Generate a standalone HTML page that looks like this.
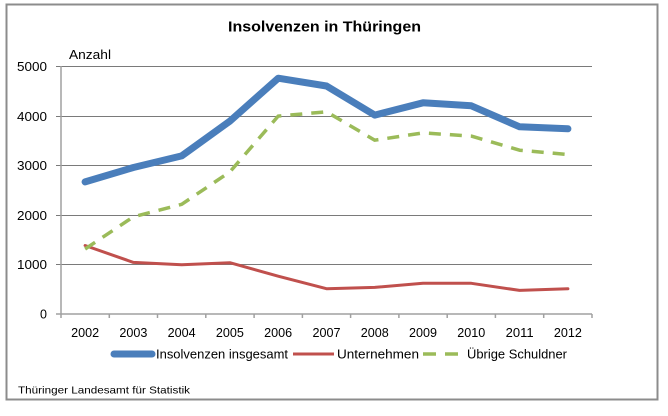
<!DOCTYPE html>
<html><head><meta charset="utf-8"><style>
html,body{margin:0;padding:0;background:#fff;}
svg{display:block;}
text{font-family:"Liberation Sans",sans-serif;fill:#000;}
</style></head><body>
<svg width="668" height="416" viewBox="0 0 668 416" xmlns="http://www.w3.org/2000/svg">
<rect x="0" y="0" width="668" height="416" fill="#fff"/>
<rect x="6.5" y="4.5" width="651" height="395" fill="#fff" stroke="#8c8c8c" stroke-width="2"/>
<text x="228" y="31.3" font-size="15" font-weight="bold" textLength="193" lengthAdjust="spacingAndGlyphs">Insolvenzen in Thüringen</text>
<text x="69" y="59" font-size="13" textLength="42" lengthAdjust="spacingAndGlyphs">Anzahl</text>
<g stroke="#7a7a7a" stroke-width="1">
<line x1="56" y1="66.5" x2="592" y2="66.5"/>
<line x1="56" y1="116.5" x2="592" y2="116.5"/>
<line x1="56" y1="165.5" x2="592" y2="165.5"/>
<line x1="56" y1="215.5" x2="592" y2="215.5"/>
<line x1="56" y1="264.5" x2="592" y2="264.5"/>
</g>
<g stroke="#a0a0a0" stroke-width="1.5">
<line x1="61" y1="66" x2="61" y2="318"/>
<line x1="56" y1="314" x2="592" y2="314"/>
<line x1="109.3" y1="314" x2="109.3" y2="318"/>
<line x1="157.5" y1="314" x2="157.5" y2="318"/>
<line x1="205.8" y1="314" x2="205.8" y2="318"/>
<line x1="254.1" y1="314" x2="254.1" y2="318"/>
<line x1="302.4" y1="314" x2="302.4" y2="318"/>
<line x1="350.6" y1="314" x2="350.6" y2="318"/>
<line x1="398.9" y1="314" x2="398.9" y2="318"/>
<line x1="447.2" y1="314" x2="447.2" y2="318"/>
<line x1="495.4" y1="314" x2="495.4" y2="318"/>
<line x1="543.7" y1="314" x2="543.7" y2="318"/>
<line x1="592" y1="314" x2="592" y2="318"/>
</g>
<g font-size="12.5" text-anchor="end">
<text x="47" y="71" textLength="30" lengthAdjust="spacingAndGlyphs">5000</text>
<text x="47" y="121" textLength="30" lengthAdjust="spacingAndGlyphs">4000</text>
<text x="47" y="170" textLength="30" lengthAdjust="spacingAndGlyphs">3000</text>
<text x="47" y="220" textLength="30" lengthAdjust="spacingAndGlyphs">2000</text>
<text x="47" y="269" textLength="30" lengthAdjust="spacingAndGlyphs">1000</text>
<text x="47" y="318.5">0</text>
</g>
<g font-size="12.5">
<text x="71.1" y="337" textLength="28" lengthAdjust="spacingAndGlyphs">2002</text>
<text x="119.4" y="337" textLength="28" lengthAdjust="spacingAndGlyphs">2003</text>
<text x="167.7" y="337" textLength="28" lengthAdjust="spacingAndGlyphs">2004</text>
<text x="215.9" y="337" textLength="28" lengthAdjust="spacingAndGlyphs">2005</text>
<text x="264.2" y="337" textLength="28" lengthAdjust="spacingAndGlyphs">2006</text>
<text x="312.5" y="337" textLength="28" lengthAdjust="spacingAndGlyphs">2007</text>
<text x="360.8" y="337" textLength="28" lengthAdjust="spacingAndGlyphs">2008</text>
<text x="409" y="337" textLength="28" lengthAdjust="spacingAndGlyphs">2009</text>
<text x="457.3" y="337" textLength="28" lengthAdjust="spacingAndGlyphs">2010</text>
<text x="505.6" y="337" textLength="28" lengthAdjust="spacingAndGlyphs">2011</text>
<text x="553.9" y="337" textLength="28" lengthAdjust="spacingAndGlyphs">2012</text>
</g>
<polyline fill="none" stroke="#c0504d" stroke-width="3" stroke-linejoin="round" stroke-linecap="round"
 points="85.1,245.5 133.4,262.4 181.7,264.7 229.9,262.7 278.2,276.2 326.5,288.7 374.8,287.4 423,283.3 471.3,283.3 519.6,290.4 567.9,288.7"/>
<polyline fill="none" stroke="#9bbb59" stroke-width="3.5" stroke-linejoin="round" stroke-dasharray="12 9"
 points="85.1,249 133.4,216.8 181.7,204.3 229.9,171.9 278.2,116.1 326.5,111.8 374.8,140.2 423,132.9 471.3,136.1 519.6,150.2 567.9,154.5"/>
<polyline fill="none" stroke="#4a7ebb" stroke-width="7" stroke-linejoin="round" stroke-linecap="round"
 points="85.1,181.9 133.4,167.5 181.7,155.9 229.9,121.1 278.2,78.2 326.5,86 374.8,115.1 423,102.8 471.3,105.8 519.6,126.8 567.9,128.8"/>
<line x1="114" y1="354" x2="152" y2="354" stroke="#4a7ebb" stroke-width="7" stroke-linecap="round"/>
<text x="156" y="358.5" font-size="12.5" textLength="132" lengthAdjust="spacingAndGlyphs">Insolvenzen insgesamt</text>
<line x1="293" y1="354" x2="334" y2="354" stroke="#c0504d" stroke-width="3"/>
<text x="337" y="358.5" font-size="12.5" textLength="82" lengthAdjust="spacingAndGlyphs">Unternehmen</text>
<line x1="423" y1="354" x2="436" y2="354" stroke="#9bbb59" stroke-width="3.5"/>
<line x1="445" y1="354" x2="458" y2="354" stroke="#9bbb59" stroke-width="3.5"/>
<text x="467" y="358.5" font-size="12.5" textLength="100" lengthAdjust="spacingAndGlyphs">Übrige Schuldner</text>
<text x="18" y="393.3" font-size="10.5" textLength="172" lengthAdjust="spacingAndGlyphs">Thüringer Landesamt für Statistik</text>
</svg>
</body></html>
